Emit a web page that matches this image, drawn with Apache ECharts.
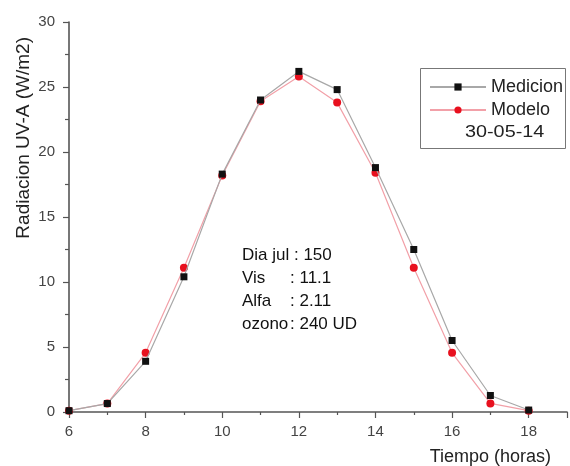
<!DOCTYPE html>
<html>
<head>
<meta charset="utf-8">
<script src="https://cdn.jsdelivr.net/npm/echarts@6/dist/echarts.min.js"></script>
<style>
  html, body { margin: 0; padding: 0; background: #fff; }
  #chart { width: 570px; height: 466px; }
</style>
</head>
<body>
<div id="chart"></div>
<script>
// hours of day
const hours = [6, 7, 8, 9, 10, 11, 12, 13, 14, 15, 16, 17, 18]
// measured UV-A (W/m2)
const medicion = [0.1, 0.65, 3.9, 10.4, 18.3, 24.0, 26.2, 24.8, 18.8, 12.5, 5.5, 1.27, 0.15]
// model UV-A (W/m2)
const modelo = [0.1, 0.65, 4.55, 11.1, 18.2, 23.9, 25.8, 23.8, 18.4, 11.1, 4.55, 0.66, 0.1]
const infoLabels = ['Dia jul ', 'Vis', 'Alfa', 'ozono']
const infoValues = [': 150', ': 11.1', ': 2.11', ': 240 UD']
const legendDate = '30-05-14'

const font = 'Liberation Sans, Arial, sans-serif'
const chart = echarts.init(document.getElementById('chart'))

const pairs = arr => hours.map((h, i) => [h, arr[i]])

// info block, values column lined up after the labels
const infoSize = 17
const infoLine = 23
const ctx = document.createElement('canvas').getContext('2d')
ctx.font = infoSize + 'px ' + font
const infoX = 242
const infoY = 255
const infoGraphics = []
infoLabels.forEach((lab, i) => {
  const y = infoY + i * infoLine
  const vx = Math.max(infoX + 48, infoX + ctx.measureText(lab).width)
  infoGraphics.push({
    type: 'text', x: infoX, y: y,
    style: { text: lab, fontFamily: font, fontSize: infoSize, fill: '#111', verticalAlign: 'middle' }
  })
  infoGraphics.push({
    type: 'text', x: vx, y: y,
    style: { text: infoValues[i], fontFamily: font, fontSize: infoSize, fill: '#111', verticalAlign: 'middle' }
  })
})

const axisColor = '#555'

const option = {
  animation: false,
  grid: { left: 69, right: -9, top: 22, bottom: 52 },
  xAxis: {
    type: 'value',
    min: 6,
    max: 19,
    interval: 2,
    name: 'Tiempo (horas)',
    nameLocation: 'end',
    nameGap: 0,
    nameTextStyle: {
      fontFamily: font, fontSize: 18, color: '#222',
      align: 'right', verticalAlign: 'top', padding: [36, 16, 0, 0]
    },
    axisLine: { lineStyle: { color: axisColor, width: 1.6 } },
    axisTick: { length: 6, lineStyle: { color: axisColor, width: 1.2 } },
    minorTick: { show: true, splitNumber: 2, length: 3, lineStyle: { color: axisColor, width: 1.2 } },
    axisLabel: {
      fontFamily: font, fontSize: 15, color: '#444', margin: 12,
      formatter: v => (v % 2 === 0 && v <= 18 ? String(v) : '')
    },
    splitLine: { show: false }
  },
  yAxis: {
    type: 'value',
    min: 0,
    max: 30,
    interval: 5,
    name: 'Radiacion UV-A (W/m2)',
    nameLocation: 'end',
    nameRotate: 90,
    nameGap: -15,
    nameTextStyle: {
      fontFamily: font, fontSize: 19, color: '#222',
      align: 'right', verticalAlign: 'bottom', padding: [0, 0, 36, 0]
    },
    axisLine: { show: true, lineStyle: { color: axisColor, width: 1.6 } },
    axisTick: { show: true, length: 6, lineStyle: { color: axisColor, width: 1.2 } },
    minorTick: { show: true, splitNumber: 2, length: 4, lineStyle: { color: axisColor, width: 1.2 } },
    axisLabel: { fontFamily: font, fontSize: 15, color: '#444', margin: 14 },
    splitLine: { show: false }
  },
  legend: {
    orient: 'vertical',
    left: 424,
    top: 73,
    itemWidth: 56,
    itemHeight: 9,
    itemGap: 5,
    textStyle: { fontFamily: font, fontSize: 18, color: '#222' },
    data: ['Medicion', 'Modelo']
  },
  graphic: [
    {
      type: 'rect',
      shape: { x: 420.5, y: 68.5, width: 145, height: 80 },
      style: { fill: 'none', stroke: '#777', lineWidth: 1 },
      z: 100
    },
    {
      type: 'text',
      x: 465,
      y: 132,
      scaleX: 1.2,
      style: { text: legendDate, fontFamily: font, fontSize: 16.5, fill: '#222', verticalAlign: 'middle' }
    }
  ].concat(infoGraphics),
  series: [
    {
      name: 'Modelo',
      type: 'line',
      data: pairs(modelo),
      symbol: 'circle',
      symbolSize: 8,
      itemStyle: { color: '#e8101e' },
      lineStyle: { color: '#f2a0a8', width: 1.2 },
      z: 2
    },
    {
      name: 'Medicion',
      type: 'line',
      data: pairs(medicion),
      symbol: 'rect',
      symbolSize: 7,
      itemStyle: { color: '#111' },
      lineStyle: { color: '#a8a8a8', width: 1.2 },
      z: 3
    }
  ]
}

chart.setOption(option)
</script>
</body>
</html>
